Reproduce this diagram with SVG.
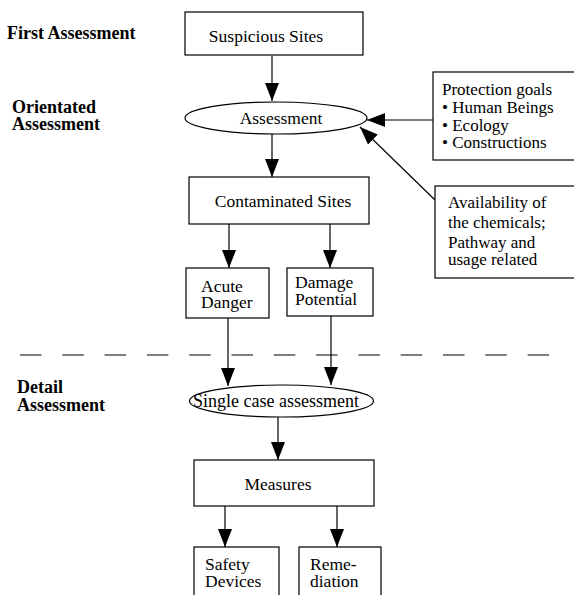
<svg xmlns="http://www.w3.org/2000/svg" width="574" height="595" viewBox="0 0 574 595">
  <style>
    .box { fill: #fff; stroke: #000; stroke-width: 1.2; }
    .lbl { font-family: "Liberation Serif", "Times New Roman", serif; font-size: 17.5px; fill: #000; }
    .side { font-family: "Liberation Serif", "Times New Roman", serif; font-size: 17px; fill: #000; }
    .stage { font-family: "Liberation Serif", "Times New Roman", serif; font-size: 18px; font-weight: bold; fill: #000; }
    .edge { stroke: #000; stroke-width: 1.2; fill: none; marker-end: url(#head); }
    .sep { stroke: #000; stroke-width: 1.2; stroke-dasharray: 21.5 20.8; }
  </style>
  <defs>
    <marker id="head" viewBox="0 0 18 14" refX="18" refY="7" markerWidth="18" markerHeight="14" markerUnits="userSpaceOnUse" orient="auto">
      <path d="M0,0 L18,7 L0,14 Z" fill="#000"/>
    </marker>
  </defs>

  <rect width="574" height="595" fill="#fff"/>

  <!-- stage labels -->
  <g id="stages">
    <text class="stage" x="7" y="39">First Assessment</text>
    <text class="stage" x="12" y="113">Orientated</text>
    <text class="stage" x="12" y="130">Assessment</text>
    <text class="stage" x="17" y="393">Detail</text>
    <text class="stage" x="17" y="411">Assessment</text>
  </g>

  <!-- stage separator -->
  <line class="sep" x1="20" y1="355" x2="552" y2="355"/>

  <g id="connectors">
    <line class="edge" x1="272" y1="56" x2="272" y2="101"/>
    <line class="edge" x1="272" y1="134" x2="272" y2="177"/>
    <line class="edge" x1="434" y1="120" x2="367" y2="120"/>
    <line class="edge" x1="435" y1="200" x2="360" y2="127"/>
    <line class="edge" x1="229" y1="224" x2="229" y2="268"/>
    <line class="edge" x1="330" y1="224" x2="330" y2="268"/>
    <line class="edge" x1="228" y1="318" x2="228" y2="386"/>
    <line class="edge" x1="331" y1="316" x2="331" y2="385"/>
    <line class="edge" x1="278" y1="417" x2="278" y2="460"/>
    <line class="edge" x1="225" y1="506" x2="225" y2="547"/>
    <line class="edge" x1="337" y1="506" x2="337" y2="547"/>
  </g>

  <g id="suspicious-sites">
    <rect class="box" x="185" y="12" width="178" height="43"/>
    <text class="lbl" x="266" y="42" text-anchor="middle">Suspicious Sites</text>
  </g>

  <g id="assessment">
    <ellipse class="box" cx="276" cy="118" rx="91" ry="16"/>
    <text class="lbl" x="281" y="124" text-anchor="middle">Assessment</text>
  </g>

  <g id="protection-goals">
    <rect class="box" x="433" y="72" width="150" height="88"/>
    <text class="side" x="442" y="95">Protection goals</text>
    <text class="side" x="442" y="113">• Human Beings</text>
    <text class="side" x="442" y="131">• Ecology</text>
    <text class="side" x="442" y="148">• Constructions</text>
  </g>

  <g id="availability">
    <rect class="box" x="435" y="186" width="150" height="92"/>
    <text class="side" x="448" y="208">Availability of</text>
    <text class="side" x="448" y="228">the chemicals;</text>
    <text class="side" x="448" y="248">Pathway and</text>
    <text class="side" x="448" y="265">usage related</text>
  </g>

  <g id="contaminated-sites">
    <rect class="box" x="189" y="177" width="180" height="47"/>
    <text class="lbl" x="283" y="207" text-anchor="middle">Contaminated Sites</text>
  </g>

  <g id="acute-danger">
    <rect class="box" x="186" y="268" width="83" height="50"/>
    <text class="lbl" x="201" y="292">Acute</text>
    <text class="lbl" x="201" y="308">Danger</text>
  </g>

  <g id="damage-potential">
    <rect class="box" x="287" y="268" width="86" height="48"/>
    <text class="lbl" x="295" y="288">Damage</text>
    <text class="lbl" x="295" y="305">Potential</text>
  </g>

  <g id="single-case">
    <ellipse class="box" cx="281.5" cy="401" rx="92" ry="16"/>
    <text class="lbl" x="193" y="407" style="font-size:18px">Single case assessment</text>
  </g>

  <g id="measures">
    <rect class="box" x="194" y="460" width="180" height="46"/>
    <text class="lbl" x="278" y="490" text-anchor="middle">Measures</text>
  </g>

  <g id="safety-devices">
    <rect class="box" x="194" y="547" width="85" height="60"/>
    <text class="lbl" x="205" y="570">Safety</text>
    <text class="lbl" x="205" y="587">Devices</text>
  </g>

  <g id="remediation">
    <rect class="box" x="299" y="547" width="82" height="60"/>
    <text class="lbl" x="310" y="570">Reme-</text>
    <text class="lbl" x="310" y="587">diation</text>
  </g>
</svg>
